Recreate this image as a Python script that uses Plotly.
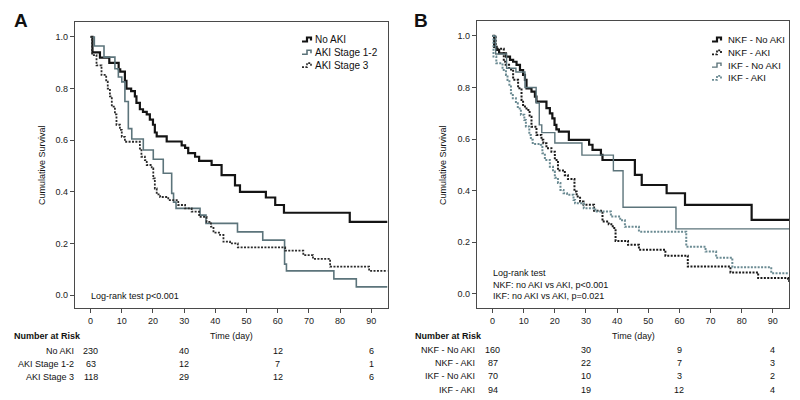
import plotly.graph_objects as go

# ---------------- data ----------------
# Panel A
A_noaki_t = [0, 0.6, 3, 6, 9, 9.5, 11, 11.5, 13, 14.2, 14.7, 15.8, 16.8, 18, 19, 20, 20.6, 21.2, 24.4,
             29.2, 30.3, 31.3, 33.5, 34.8, 38.8, 42, 46.3, 47.9, 56.2, 59.2, 62.0, 83.1, 95.2]
A_noaki_s = [1.0, 0.94, 0.92, 0.90, 0.875, 0.866, 0.83, 0.80, 0.79, 0.77, 0.745, 0.72, 0.71, 0.70, 0.68,
             0.66, 0.63, 0.615, 0.595, 0.58, 0.57, 0.55, 0.536, 0.52, 0.504, 0.465, 0.425, 0.40, 0.378,
             0.349, 0.319, 0.284, 0.284]
A_s12_t = [0, 1.2, 4.3, 7.8, 8.9, 10.0, 11.0, 12.1, 13.2, 16.9, 20.1, 23.3, 26.0, 26.6, 27.4, 35.1,
           37.0, 47.1, 55.2, 62.2, 62.8, 78.0, 85.2, 95.2]
A_s12_s = [1.0, 0.965, 0.922, 0.877, 0.845, 0.826, 0.75, 0.645, 0.605, 0.562, 0.526, 0.472, 0.394,
           0.36, 0.336, 0.31, 0.278, 0.245, 0.213, 0.12, 0.094, 0.063, 0.032, 0.032]
A_s3_t = [0, 0.5, 1.9, 3.5, 5, 5.5, 6.2, 6.8, 7.8, 8.3, 9.4, 10, 11, 15.8, 16.3, 17.4, 18, 19.6, 20.1,
          20.6, 21.2, 22.3, 24.9, 28.1, 30.3, 32.4, 34.8, 37.2, 38.6, 39.4, 41.5, 42.6, 44.7, 47.2,
          62.4, 68.2, 71.3, 76.8, 89.3, 95.2]
A_s3_s = [1.0, 0.93, 0.89, 0.853, 0.827, 0.80, 0.77, 0.73, 0.70, 0.66, 0.64, 0.613, 0.594, 0.568,
          0.536, 0.523, 0.504, 0.491, 0.452, 0.413, 0.39, 0.38, 0.368, 0.349, 0.336, 0.323, 0.303,
          0.284, 0.265, 0.242, 0.233, 0.207, 0.20, 0.185, 0.172, 0.155, 0.14, 0.11, 0.094, 0.094]

# Panel B
B_nn_t = [0, 0.5, 1.3, 2.1, 4.3, 5.6, 6.6, 7.7, 8.8, 9.8, 10.4, 10.9, 12.5, 13.6, 14.1, 17.3, 18.4,
          19.2, 19.9, 20.5, 21.3, 24.5, 31, 32.1, 34.8, 35.3, 45.7, 47.9, 55.9, 61.8, 83.2, 95.2]
B_nn_s = [1.0, 0.958, 0.946, 0.933, 0.92, 0.907, 0.90, 0.888, 0.868, 0.849, 0.83, 0.797, 0.784, 0.765,
          0.745, 0.72, 0.70, 0.68, 0.655, 0.638, 0.629, 0.597, 0.578, 0.558, 0.539, 0.519, 0.461, 0.422,
          0.39, 0.345, 0.287, 0.287]
B_na_t = [0, 1, 3.6, 4.2, 5.3, 6.6, 8.2, 9.3, 9.8, 10.9, 11.9, 12.5, 14.1, 15.7, 16.3, 17.3, 18.9, 20,
          21, 23.2, 24.2, 26.3, 27, 28.1, 29.2, 32.6, 35.3, 37.3, 38.6, 39.5, 43.5, 47, 55.5, 62.7, 76.4,
          85.3, 94.9, 95.2]
B_na_s = [1.0, 0.95, 0.90, 0.888, 0.87, 0.83, 0.797, 0.752, 0.726, 0.713, 0.687, 0.648, 0.616, 0.597,
          0.584, 0.565, 0.551, 0.519, 0.478, 0.46, 0.445, 0.397, 0.377, 0.358, 0.345, 0.322, 0.28, 0.27,
          0.255, 0.205, 0.19, 0.171, 0.148, 0.106, 0.083, 0.061, 0.05, 0.05]
B_in_t = [0, 1, 4.5, 7.5, 10.4, 14.0, 15.0, 15.8, 20, 28.7, 38.8, 41.9, 58.9, 95.2]
B_in_s = [1.0, 0.93, 0.875, 0.86, 0.80, 0.74, 0.655, 0.625, 0.585, 0.538, 0.477, 0.336, 0.252, 0.252]
B_ia_t = [0, 0.3, 1.2, 3.2, 4.3, 4.8, 5.4, 5.9, 6.5, 7.5, 8.1, 9.1, 10.2, 10.7, 11.8, 12.3, 12.9, 15.5,
          16, 16.8, 18.4, 19.4, 20, 21, 21.8, 22.8, 23.9, 26, 26.5, 29.3, 33, 38, 41, 42.5, 47, 62.2,
          68.4, 71.8, 77, 89.5, 95.2]
B_ia_s = [1.0, 0.92, 0.894, 0.868, 0.849, 0.829, 0.804, 0.778, 0.758, 0.739, 0.719, 0.694, 0.674, 0.649,
          0.616, 0.597, 0.581, 0.578, 0.545, 0.519, 0.493, 0.474, 0.45, 0.43, 0.403, 0.39, 0.384, 0.364,
          0.351, 0.332, 0.319, 0.30, 0.285, 0.26, 0.241, 0.183, 0.164, 0.14, 0.103, 0.08, 0.08]

risk_times = [0, 30, 60, 90]
A_groups = ["No AKI", "AKI Stage 1-2", "AKI Stage 3"]
A_risk = [[230, 40, 12, 6], [63, 12, 7, 1], [118, 29, 12, 6]]
B_groups = ["NKF - No AKI", "NKF - AKI", "IKF - No AKI", "IKF - AKI"]
B_risk = [[160, 30, 9, 4], [87, 22, 7, 3], [70, 10, 3, 2], [94, 19, 12, 4]]

y_ticks = [0.0, 0.2, 0.4, 0.6, 0.8, 1.0]
x_ticks = [0, 10, 20, 30, 40, 50, 60, 70, 80, 90]

# ---------------- styling ----------------
W, H = 800, 400
FONT = "Liberation Sans, Arial, sans-serif"
BLACK = "#141414"
GRAY = "#5c747b"
GRAY_DOT = "#6a8a92"
DOT = "2px,1.4px"


def px(x):
    return x / W


def py(y):
    return 1 - y / H


fig = go.Figure()

series = [
    ("x", "y", A_noaki_t, A_noaki_s, BLACK, "solid", 2.2),
    ("x", "y", A_s12_t, A_s12_s, GRAY, "solid", 1.6),
    ("x", "y", A_s3_t, A_s3_s, "#2a2a2a", DOT, 1.8),
    ("x2", "y2", B_nn_t, B_nn_s, BLACK, "solid", 2.2),
    ("x2", "y2", B_na_t, B_na_s, "#1a1a1a", DOT, 2.0),
    ("x2", "y2", B_in_t, B_in_s, GRAY, "solid", 1.4),
    ("x2", "y2", B_ia_t, B_ia_s, GRAY_DOT, DOT, 2.0),
]
for xa, ya, t, s, c, d, w in series:
    fig.add_trace(go.Scatter(x=t, y=s, xaxis=xa, yaxis=ya, mode="lines", line_shape="hv",
                             line=dict(color=c, dash=d, width=w), showlegend=False, hoverinfo="skip"))

axis_common = dict(showline=True, mirror=True, linecolor="#4a4a4a", linewidth=1.4, ticks="outside",
                   ticklen=4, tickcolor="#4a4a4a", showgrid=False, zeroline=False,
                   tickfont=dict(family=FONT, size=9, color="#222"))

fig.update_layout(
    width=W, height=H, margin=dict(l=0, r=0, t=0, b=0), autosize=False,
    paper_bgcolor="white", plot_bgcolor="white",
    xaxis=dict(domain=[px(75), px(387.5)], range=[-5.0, 95.2], tickvals=x_ticks, anchor="y", **axis_common),
    yaxis=dict(domain=[py(308), py(22)], range=[-0.05, 1.058], tickvals=y_ticks, tickformat=".1f",
               anchor="x", **axis_common),
    xaxis2=dict(domain=[px(477), px(789)], range=[-5.0, 95.2], tickvals=x_ticks, anchor="y2", **axis_common),
    yaxis2=dict(domain=[py(308), py(21)], range=[-0.055, 1.058], tickvals=y_ticks, tickformat=".1f",
                anchor="x2", **axis_common),
)

ann = []
shapes = []


def text(x, y, s, size=9, anchor="left", bold=False, xref="paper", angle=0):
    ann.append(dict(x=x, y=y, xref=xref, yref="paper", text=("<b>%s</b>" % s) if bold else s,
                    showarrow=False, xanchor=anchor, yanchor="middle", textangle=angle,
                    font=dict(family=FONT, size=size, color="#111")))


# panel letters
text(px(12), py(20), "A", size=19, bold=True)
text(px(412), py(20), "B", size=19, bold=True)

# y titles
text(px(42), py(165), "Cumulative Survival", size=9, anchor="center", angle=-90)
text(px(443), py(165), "Cumulative Survival", size=9, anchor="center", angle=-90)

# x titles
text(px(231), py(336), "Time (day)", size=9, anchor="center")
text(px(633), py(336), "Time (day)", size=9, anchor="center")

# log-rank annotations
text(px(89), py(296), "Log-rank test p<0.001", size=9)
text(px(491), py(273), "Log-rank test", size=9)
text(px(491), py(284.5), "NKF: no AKI vs AKI, p<0.001", size=9)
text(px(491), py(296), "IKF: no AKI vs AKI, p=0.021", size=9)


# legends (step glyph + label)
def glyph(x0, yc, color, dash, width):
    pts = [(x0, yc + 2), (x0 + 5, yc + 2), (x0 + 5, yc - 2), (x0 + 9, yc - 2), (x0 + 9, yc + 1)]
    path = "M " + " L ".join("%f,%f" % (px(a), py(b)) for a, b in pts)
    shapes.append(dict(type="path", path=path, xref="paper", yref="paper",
                       line=dict(color=color, width=width, dash=dash)))


A_leg_style = [(BLACK, "solid", 2.2), (GRAY, "solid", 1.6), ("#2a2a2a", DOT, 1.6)]
for i, (g, st) in enumerate(zip(A_groups, A_leg_style)):
    yc = 39.5 + i * 12.8
    glyph(302, yc, *st)
    text(px(312.5), py(yc), g, size=10)

B_leg_style = [(BLACK, "solid", 2.2), ("#1a1a1a", DOT, 1.8), (GRAY, "solid", 1.4), (GRAY_DOT, DOT, 1.8)]
for i, (g, st) in enumerate(zip(B_groups, B_leg_style)):
    yc = 39.5 + i * 12.8
    glyph(712, yc, *st)
    text(px(726), py(yc), g, size=9.5)

# risk tables
text(px(12), py(336), "Number at Risk", size=9, bold=True)
for i, (g, row) in enumerate(zip(A_groups, A_risk)):
    yy = 351 + i * 13.2
    text(px(76), py(yy), g, size=9, anchor="right")
    for t, v in zip(risk_times, row):
        text(t, py(yy), str(v), size=9, anchor="center", xref="x")

text(px(413), py(336), "Number at Risk", size=9, bold=True)
for i, (g, row) in enumerate(zip(B_groups, B_risk)):
    yy = 349.8 + i * 13.3
    text(px(477), py(yy), g, size=9, anchor="right")
    for t, v in zip(risk_times, row):
        text(t, py(yy), str(v), size=9, anchor="center", xref="x2")

fig.update_layout(annotations=ann, shapes=shapes)
fig.write_html("out.html")
